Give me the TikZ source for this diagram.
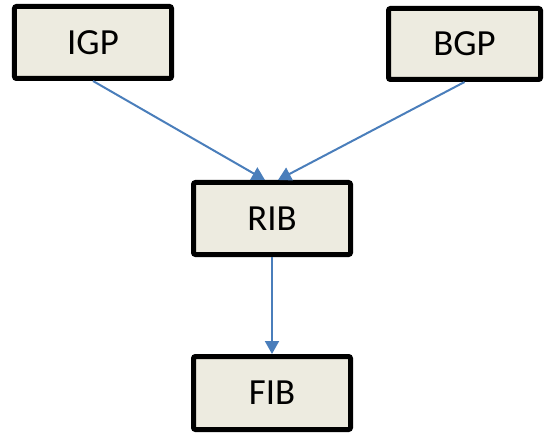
\documentclass[tikz,border=0pt]{standalone}
\usepackage{fontspec}
\setmainfont{Carlito}
\usetikzlibrary{arrows.meta}
\definecolor{boxfill}{HTML}{EDEBE0}
\definecolor{flowblue}{HTML}{4A7EBB}
\tikzset{
  tablebox/.style={draw=black, fill=boxfill, line width=5bp, rounded corners=2bp,
    minimum width=157bp, minimum height=72bp, inner sep=0pt,
    font=\fontsize{37}{42}\selectfont},
  flow/.style={draw=flowblue, line width=2bp, -{Triangle[length=13bp,width=14bp]}}
}
\begin{document}
\begin{tikzpicture}[x=1bp,y=-1bp]
  \useasboundingbox (0,0) rectangle (544,433);
  \node[tablebox] (igp) at (93,42.5) {IGP};
  \node[tablebox, minimum width=152bp, minimum height=71bp] (bgp) at (464.5,44) {BGP};
  \node[tablebox] (rib) at (272,218.5) {RIB};
  \node[tablebox, minimum height=73bp] (fib) at (272,393) {FIB};
  \draw[flow] (igp.south) -- ([xshift=-7bp]rib.north);
  \draw[flow] (bgp.south) -- ([xshift=6bp]rib.north);
  \draw[flow] (rib.south) -- (fib.north);
\end{tikzpicture}
\end{document}
